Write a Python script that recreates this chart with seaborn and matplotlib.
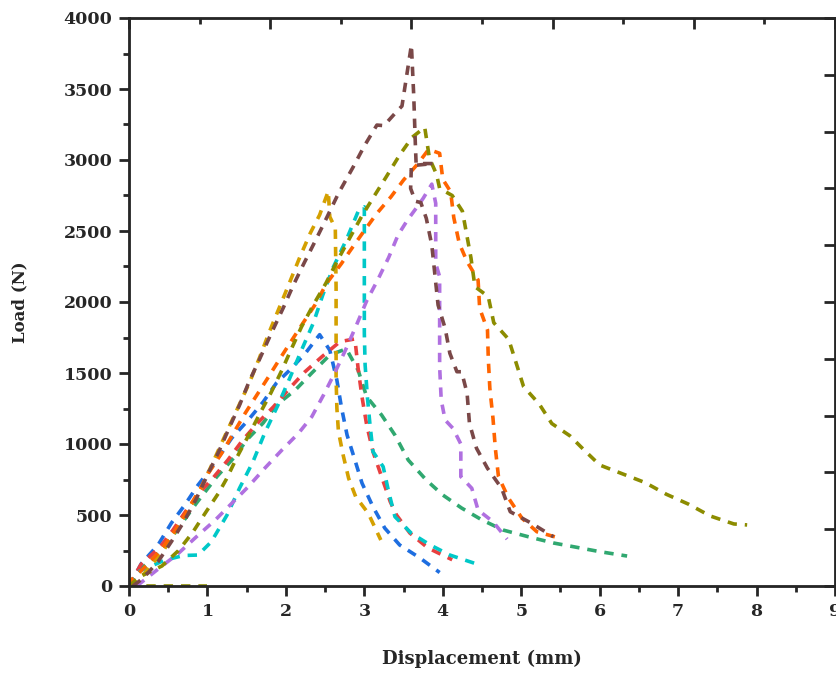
import numpy as np
import pandas as pd
import seaborn as sns
import matplotlib.pyplot as plt
from matplotlib.ticker import MultipleLocator

sns.set_style('ticks')
plt.rcParams['font.family'] = ['DejaVu Serif']
plt.rcParams['font.weight'] = 'bold'

# load-displacement curves (mm, N)
blue_x = [0, 0.16, 0.37, 0.54, 0.71, 0.88, 1.03, 1.31, 1.52, 1.71, 1.88, 2.05, 2.25, 2.43, 2.56, 2.65,
          2.71, 2.78, 2.88, 2.97, 3.11, 3.26, 3.45, 3.71, 3.96]
blue_y = [0, 160, 289, 443, 570, 711, 817, 1042, 1169, 1296, 1430, 1521, 1640, 1770, 1660, 1450,
          1253, 1063, 887, 725, 558, 408, 289, 197, 95]

red_x = [0, 0.15, 0.40, 0.56, 0.75, 0.93, 1.07, 1.26, 1.45, 1.64, 1.84, 2.05, 2.24, 2.46, 2.69, 2.88,
         2.92, 2.97, 3.03, 3.11, 3.22, 3.33, 3.41, 3.58, 3.81, 4.12]
red_y = [0, 150, 277, 394, 549, 676, 760, 887, 1028, 1148, 1261, 1394, 1507, 1615, 1721, 1740,
         1535, 1333, 1134, 946, 770, 594, 500, 373, 268, 185]

green_x = [0, 0.15, 0.31, 0.52, 0.86, 1.12, 1.35, 1.50, 1.71, 1.88, 2.12, 2.33, 2.56, 2.77, 2.92,
           3.03, 3.22, 3.39, 3.56, 3.79, 4.0, 4.24, 4.50, 4.77, 5.09, 5.41, 5.75, 6.0, 6.35]
green_y = [0, 120, 197, 324, 584, 770, 911, 1028, 1148, 1275, 1380, 1500, 1627, 1670, 1521,
           1333, 1204, 1063, 887, 746, 641, 549, 465, 394, 347, 303, 268, 242, 211]

cyan_x = [0, 0.12, 0.46, 0.70, 0.88, 1.05, 1.25, 1.41, 1.58, 1.73, 1.90, 2.05, 2.20, 2.35, 2.47, 2.60,
          2.77, 2.92, 3.0, 3.0, 3.0, 3.01, 3.04, 3.07, 3.11, 3.24, 3.31, 3.39, 3.60, 3.84, 4.09, 4.47]
cyan_y = [0, 101, 183, 215, 218, 312, 500, 690, 875, 1077, 1275, 1465, 1662, 1852, 2049, 2240,
          2437, 2636, 2670, 2200, 1780, 1556, 1324, 1148, 946, 840, 664, 488, 371, 289, 218, 148]

gold_x = [0, 0.2, 0.44, 0.91, 1.2, 1.54, 1.66, 1.79, 1.93, 2.06, 2.18, 2.31, 2.43, 2.54, 2.56, 2.63,
          2.64, 2.64, 2.65, 2.67, 2.73, 2.80, 2.89, 3.05, 3.21]
gold_y = [0, 90, 250, 676, 1030, 1438, 1603, 1791, 1979, 2155, 2319, 2484, 2613, 2780, 2600, 2519,
          2100, 1465, 1253, 1087, 922, 758, 629, 512, 324]

brown_x = [0.05, 0.18, 0.37, 0.54, 0.70, 0.85, 1.01, 1.15, 1.28, 1.41, 1.53, 1.66, 1.81, 1.97, 2.09,
           2.23, 2.37, 2.51, 2.67, 2.86, 3.0, 3.16, 3.25, 3.41, 3.48, 3.60, 3.63, 3.65, 3.66, 3.88,
           3.60, 3.59, 3.65, 3.72, 3.79, 3.86, 3.90, 3.94, 4.03, 4.09, 4.18, 4.24, 4.31, 4.34, 4.43,
           4.57, 4.75, 4.86, 5.13, 5.41]
brown_y = [0, 55, 171, 312, 453, 606, 793, 953, 1117, 1275, 1438, 1592, 1775, 1963, 2113,
           2272, 2425, 2582, 2765, 2953, 3099, 3246, 3242, 3340, 3380, 3810, 3450, 3117, 2975, 2975,
           2960, 2800, 2710, 2700, 2589, 2401, 2190, 1979, 1815, 1639, 1509, 1509, 1357, 1146, 970,
           829, 688, 523, 442, 347]

orange_x = [0, 0.03, 0.23, 0.42, 0.59, 0.76, 0.91, 1.01, 1.18, 1.33, 1.48, 1.63, 1.78, 1.90, 2.05,
            2.21, 2.37, 2.52, 2.71, 2.81, 2.99, 3.16, 3.34, 3.50, 3.68, 3.82, 3.96, 4.0, 4.10, 4.14,
            4.21, 4.31, 4.45, 4.47, 4.57, 4.58, 4.60, 4.64, 4.67, 4.71, 4.84, 5.01, 5.20, 5.47]
orange_y = [0, 42, 148, 265, 394, 547, 688, 793, 934, 1075, 1216, 1345, 1474, 1580, 1709,
            1845, 1979, 2132, 2272, 2354, 2495, 2624, 2741, 2859, 2972, 3075, 3047, 2864, 2777, 2595,
            2413, 2284, 2155, 1956, 1803, 1603, 1392, 1181, 970, 770, 617, 477, 382, 340]

olive_x = [0, 0.14, 0.42, 0.63, 0.81, 0.97, 1.14, 1.24, 1.38, 1.52, 1.67, 1.81, 1.95, 2.07, 2.20,
           2.35, 2.51, 2.65, 2.80, 2.97, 3.12, 3.28, 3.45, 3.61, 3.77, 3.83, 3.92, 3.96, 4.12, 4.25,
           4.30, 4.36, 4.41, 4.58, 4.65, 4.84, 4.93, 5.03, 5.23, 5.39, 5.62, 5.79, 6.0, 6.29, 6.58,
           6.85, 7.13, 7.41, 7.71, 7.88]
olive_y = [0, 66, 141, 249, 376, 512, 653, 751, 911, 1056, 1216, 1361, 1521, 1670, 1826,
           1980, 2132, 2284, 2437, 2607, 2741, 2882, 3035, 3160, 3230, 3012, 2900, 2800, 2750, 2640,
           2490, 2308, 2108, 2038, 1854, 1737, 1580, 1404, 1281, 1144, 1058, 964, 852, 790, 728,
           646, 577, 493, 437, 430]

flat_x = [0, 1.0]
flat_y = [0, 0]

purple_x = [0.1, 0.35, 0.63, 0.86, 1.10, 1.31, 1.52, 1.73, 1.95, 2.16, 2.33, 2.48, 2.63, 2.77, 2.90,
            3.03, 3.17, 3.31, 3.43, 3.55, 3.66, 3.75, 3.86, 3.91, 3.91, 3.96, 3.96, 3.98, 4.03, 4.13,
            4.23, 4.23, 4.37, 4.45, 4.64, 4.82]
purple_y = [0, 110, 230, 347, 465, 582, 699, 829, 958, 1075, 1192, 1345, 1509, 1674, 1838,
            2008, 2155, 2313, 2472, 2577, 2660, 2730, 2830, 2695, 2272, 2178, 1545, 1310, 1169, 1110,
            1000, 770, 688, 535, 453, 330]

series = [
    (flat_x, flat_y, '#8c8c00'),
    (green_x, green_y, '#30a870'),
    (blue_x, blue_y, '#1e6ee0'),
    (red_x, red_y, '#e84040'),
    (cyan_x, cyan_y, '#00c8c8'),
    (gold_x, gold_y, '#d4a000'),
    (purple_x, purple_y, '#b070e0'),
    (orange_x, orange_y, '#ff6400'),
    (olive_x, olive_y, '#8c8c00'),
    (brown_x, brown_y, '#7a4848'),
]

fig = plt.figure(figsize=(8.37, 6.74), dpi=100)
ax = fig.add_axes([129 / 837, 1 - 586 / 674, 706 / 837, 568 / 674])

for xs, ys, c in series:
    sns.lineplot(x=xs, y=ys, sort=False, estimator=None, color=c, linewidth=2.6, ax=ax)
    ln = ax.lines[-1]
    ln.set_dashes((2.6, 2.2))
    ln.set_dash_capstyle('butt')

ax.set_xlim(0, 9)
ax.set_ylim(0, 4000)
ax.xaxis.set_major_locator(MultipleLocator(1))
ax.xaxis.set_minor_locator(MultipleLocator(0.5))
ax.yaxis.set_major_locator(MultipleLocator(500))
ax.yaxis.set_minor_locator(MultipleLocator(250))
ax.tick_params(which='major', direction='out', length=7, width=2, labelsize=12.5, pad=5)
ax.tick_params(which='minor', direction='out', length=4, width=2)
for s in ax.spines.values():
    s.set_linewidth(2)
    s.set_visible(True)

ax.set_xlabel('Displacement (mm)', fontsize=13, fontweight='bold', labelpad=22)
ax.set_ylabel('Load (N)', fontsize=12, fontweight='bold', labelpad=25)

# mirror axes: inward ticks on top and right
top = ax.twiny()
top.set_xlim(0, 10)
top.xaxis.set_major_locator(MultipleLocator(2))
top.xaxis.set_minor_locator(MultipleLocator(1))
top.tick_params(axis='x', which='major', direction='in', length=8, width=2, labeltop=False)
top.tick_params(axis='x', which='minor', direction='in', length=4, width=2)

right = ax.twinx()
right.set_ylim(0, 10)
right.yaxis.set_major_locator(MultipleLocator(1))
right.tick_params(axis='y', which='major', direction='in', length=8, width=2, labelright=False)

fig.savefig('out.png', dpi=100)
